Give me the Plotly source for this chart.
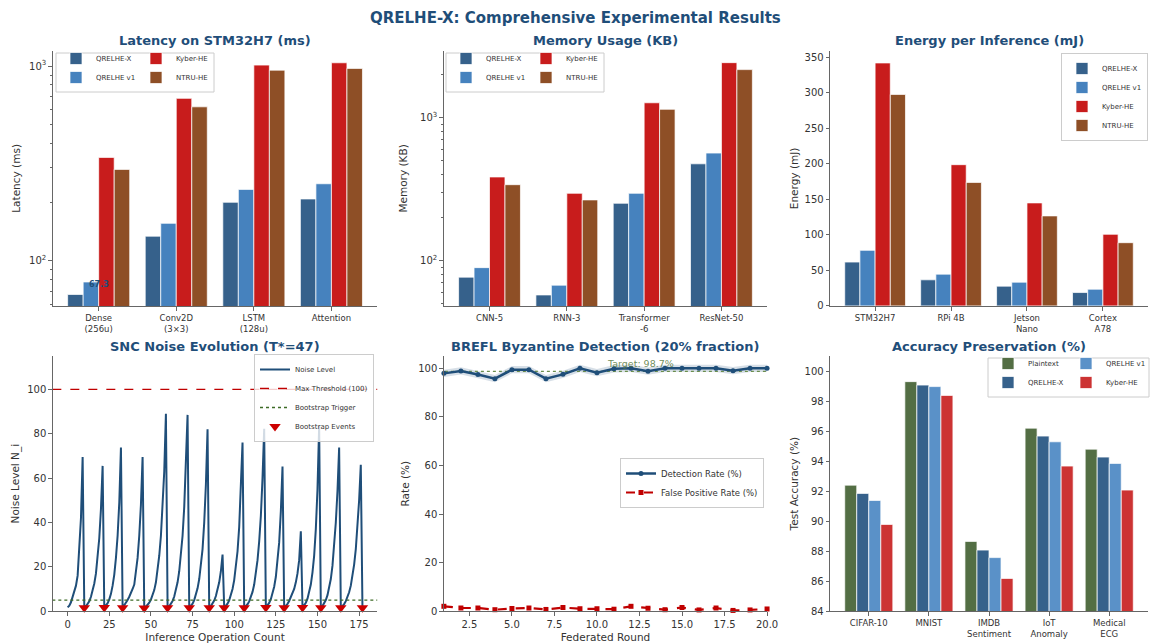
import math
import plotly.graph_objects as go

FONT = "DejaVu Sans"
TITLE_C = "#1f4e79"
TXT = "#333333"
AX = "#666666"

C_QX = "#36618b"
C_V1 = "#4682be"
C_KY = "#c81c1c"
C_NT = "#8e4f26"
C_PL = "#536e44"
C_V1B = "#5a91c8"
C_KYB = "#cc3333"

series_names = ["QRELHE-X", "QRELHE v1", "Kyber-HE", "NTRU-HE"]

# ---- Latency (ms) ----
lat_cats = ["Dense<br>(256u)", "Conv2D<br>(3×3)", "LSTM<br>(128u)", "Attention"]
lat_qx = [67.3, 134, 200, 208]
lat_v1 = [78, 156, 233, 249]
lat_ky = [340, 683, 1012, 1040]
lat_nt = [295, 618, 953, 973]

# ---- Memory (KB) ----
mem_cats = ["CNN-5", "RNN-3", "Transformer<br>-6", "ResNet-50"]
mem_qx = [76.6, 57.5, 252, 476]
mem_v1 = [89.3, 67.3, 296, 566]
mem_ky = [385, 296, 1273, 2430]
mem_nt = [340, 266, 1146, 2172]

# ---- Energy (mJ) ----
en_cats = ["STM32H7", "RPi 4B", "Jetson<br>Nano", "Cortex<br>A78"]
en_qx = [61.7, 36.7, 27.8, 18.8]
en_v1 = [78.2, 44.7, 33.4, 23.5]
en_ky = [342, 198.8, 145, 100.8]
en_nt = [297.7, 173.8, 126.7, 89]

# ---- Accuracy (%) ----
acc_cats = ["CIFAR-10", "MNIST", "IMDB<br>Sentiment", "IoT<br>Anomaly", "Medical<br>ECG"]
acc_names = ["Plaintext", "QRELHE-X", "QRELHE v1", "Kyber-HE"]
acc_plain = [92.4, 99.3, 88.65, 96.2, 94.8]
acc_qx = [91.85, 99.07, 88.07, 95.67, 94.27]
acc_v1 = [91.38, 98.97, 87.57, 95.29, 93.85]
acc_ky = [89.78, 98.38, 86.18, 93.67, 92.07]

# ---- SNC noise evolution ----
noise = [
    1.7, 2.5, 4.0, 6.5, 9.0, 11.5, 16.0, 27.0, 42.0, 69.5,
    1.5, 2.2, 3.1, 4.5, 6.5, 9.0, 12.5, 17.0, 24.0, 33.0, 46.0, 65.5,
    1.6, 2.4, 3.6, 5.3, 7.8, 11.5, 16.5, 24.0, 34.0, 49.0, 73.8,
    1.5, 2.5, 3.6, 5.0, 6.5, 8.0, 10.0, 12.0, 17.0, 24.0, 34.0, 48.0, 69.5,
    1.4, 2.0, 2.8, 3.8, 5.2, 7.0, 9.5, 13.0, 18.0, 25.0, 34.0, 46.0, 63.0, 89.0,
    1.5, 2.2, 3.2, 4.6, 6.6, 9.3, 13.0, 18.0, 25.0, 34.0, 47.0, 64.0, 88.5,
    1.5, 2.3, 3.4, 5.0, 7.2, 10.3, 14.5, 20.0, 28.0, 40.0, 57.0, 82.0,
    1.5, 2.3, 3.4, 4.8, 6.8, 9.5, 13.0, 18.0, 25.5,
    1.5, 2.3, 3.4, 4.9, 7.0, 10.0, 14.0, 19.5, 27.0, 38.0, 54.0, 76.0,
    1.5, 2.2, 3.1, 4.4, 6.2, 8.7, 12.0, 16.5, 23.0, 31.5, 43.0, 60.0, 82.2,
    1.6, 2.5, 3.7, 5.4, 7.8, 11.0, 15.5, 22.0, 31.0, 45.0, 65.2,
    1.5, 2.3, 3.3, 4.6, 6.2, 8.0, 10.0, 13.0, 17.0, 23.0, 36.0,
    1.6, 2.5, 3.8, 5.6, 8.2, 12.0, 17.5, 25.0, 37.0, 55.0, 83.5,
    1.5, 2.3, 3.4, 5.0, 7.2, 10.3, 14.5, 20.5, 28.5, 40.0, 54.0, 73.8,
    1.5, 2.2, 3.2, 4.5, 6.2, 8.5, 11.5, 15.5, 21.0, 28.0, 37.0, 50.0, 66.0,
    1.5,
]
ops = list(range(len(noise)))
bootstrap_idx = [10, 22, 33, 46, 60, 73, 85, 94, 106, 119, 130, 141, 152, 164, 177]
max_threshold = 100
bootstrap_trigger = 5

# ---- BREFL detection ----
rounds = list(range(1, 21))
det_rate = [97.9, 98.9, 97.4, 95.7, 99.4, 99.4, 95.7, 97.5, 100, 98.2,
            99.8, 100, 98.8, 100, 100, 100, 100, 99.0, 100, 100]
det_band = 1.5
fp_rate = [2.0, 1.3, 1.3, 0.6, 1.1, 1.3, 0.7, 1.5, 1.0, 1.0,
           0.8, 2.0, 1.2, 0.6, 1.5, 0.5, 1.3, 0.3, 0.5, 0.9]
target_rate = 98.7

fig = go.Figure()

# domains
X1, X2, X3 = [0.046, 0.328], [0.386, 0.667], [0.722, 0.998]
Y1, Y2 = [0.525, 0.921], [0.051, 0.447]


def add_bars(cats, vals, names, colors, xa, ya, legends):
    for v, n, c, lg in zip(vals, names, colors, legends):
        fig.add_trace(go.Bar(
            x=list(range(len(cats))), y=v, name=n, marker_color=c,
            marker_line=dict(color="rgba(255,255,255,0.9)", width=0.8),
            xaxis=xa, yaxis=ya, legend=lg, offsetgroup=n + xa,
        ))


add_bars(lat_cats, [lat_qx, lat_v1, lat_ky, lat_nt], series_names,
         [C_QX, C_V1, C_KY, C_NT], "x", "y", ["legend", "legend", "legend2", "legend2"])
add_bars(mem_cats, [mem_qx, mem_v1, mem_ky, mem_nt], series_names,
         [C_QX, C_V1, C_KY, C_NT], "x2", "y2", ["legend3", "legend3", "legend4", "legend4"])
add_bars(en_cats, [en_qx, en_v1, en_ky, en_nt], series_names,
         [C_QX, C_V1, C_KY, C_NT], "x3", "y3", ["legend5"] * 4)
add_bars(acc_cats, [acc_plain, acc_qx, acc_v1, acc_ky], acc_names,
         [C_PL, C_QX, C_V1B, C_KYB], "x6", "y6", ["legend8", "legend8", "legend9", "legend9"])

# Noise panel
fig.add_trace(go.Scatter(x=ops, y=noise, mode="lines", name="Noise Level",
                         line=dict(color="#1f4e79", width=2), xaxis="x4", yaxis="y4", legend="legend6"))
fig.add_trace(go.Scatter(x=[-20, 200], y=[max_threshold] * 2, mode="lines", name="Max Threshold (100)",
                         line=dict(color="#c00000", width=1.4, dash="dash"), xaxis="x4", yaxis="y4", legend="legend6"))
fig.add_trace(go.Scatter(x=[-20, 200], y=[bootstrap_trigger] * 2, mode="lines", name="Bootstrap Trigger",
                         line=dict(color="#3d6b26", width=1.3, dash="dot"), xaxis="x4", yaxis="y4", legend="legend6"))
fig.add_trace(go.Scatter(x=bootstrap_idx, y=[noise[i] for i in bootstrap_idx], mode="markers",
                         name="Bootstrap Events",
                         marker=dict(symbol="triangle-down", color="#cc0000", size=10),
                         xaxis="x4", yaxis="y4", legend="legend6", cliponaxis=False))

# Detection panel
fig.add_trace(go.Scatter(x=rounds, y=[d + det_band for d in det_rate], mode="lines",
                         line=dict(width=0, color="rgba(31,78,121,0)"), showlegend=False,
                         hoverinfo="skip", xaxis="x5", yaxis="y5"))
fig.add_trace(go.Scatter(x=rounds, y=[d - det_band for d in det_rate], mode="lines",
                         line=dict(width=0, color="rgba(31,78,121,0)"), fill="tonexty",
                         fillcolor="rgba(31,78,121,0.18)", showlegend=False,
                         hoverinfo="skip", xaxis="x5", yaxis="y5"))
fig.add_trace(go.Scatter(x=[0, 21], y=[target_rate] * 2, mode="lines", showlegend=False,
                         line=dict(color="#6b8e4e", width=1.2, dash="dot"), xaxis="x5", yaxis="y5"))
fig.add_trace(go.Scatter(x=rounds, y=det_rate, mode="lines+markers", name="Detection Rate (%)",
                         line=dict(color="#1f4e79", width=2.5), marker=dict(size=5, color="#1f4e79"),
                         xaxis="x5", yaxis="y5", legend="legend7", cliponaxis=False))
fig.add_trace(go.Scatter(x=rounds, y=fp_rate, mode="lines+markers", name="False Positive Rate (%)",
                         line=dict(color="#c00000", width=2.2, dash="dash"),
                         marker=dict(size=5, symbol="square", color="#c00000"),
                         xaxis="x5", yaxis="y5", legend="legend7", cliponaxis=False))

tickfont = dict(family=FONT, size=10, color=TXT)
smallfont = dict(family=FONT, size=8.5, color=TXT)
titlefont = dict(family=FONT, size=10.5, color=TXT)


def ax(domain, anchor, **kw):
    d = dict(domain=domain, anchor=anchor, showline=True, linecolor=AX, linewidth=1.2,
             ticks="outside", ticklen=3.5, tickcolor=AX, showgrid=False, zeroline=False,
             tickfont=tickfont, title_font=titlefont, automargin=False)
    d.update(kw)
    return d


def logminor(lo_exp, hi_exp):
    vals = []
    for e in range(lo_exp, hi_exp + 1):
        for m in range(2, 10):
            vals.append(m * 10 ** e)
    return vals


layout_axes = dict(
    xaxis=ax(X1, "y", range=[-0.59, 3.59], tickvals=list(range(4)), ticktext=lat_cats, tickfont=smallfont),
    yaxis=ax(Y1, "x", type="log", range=[math.log10(58.8), math.log10(1197)],
             tickvals=[100, 1000], ticktext=["10<sup>2</sup>", "10<sup>3</sup>"],
             minor=dict(tickvals=logminor(1, 3), ticks="outside", ticklen=2, tickcolor=AX),
             title=dict(text="Latency (ms)", standoff=6)),
    xaxis2=ax(X2, "y2", range=[-0.59, 3.59], tickvals=list(range(4)), ticktext=mem_cats, tickfont=smallfont),
    yaxis2=ax(Y1, "x2", type="log", range=[math.log10(48.2), math.log10(2938)],
              tickvals=[100, 1000], ticktext=["10<sup>2</sup>", "10<sup>3</sup>"],
              minor=dict(tickvals=logminor(1, 3), ticks="outside", ticklen=2, tickcolor=AX),
              title=dict(text="Memory (KB)", standoff=10)),
    xaxis3=ax(X3, "y3", range=[-0.59, 3.59], tickvals=list(range(4)), ticktext=en_cats, tickfont=smallfont),
    yaxis3=ax(Y1, "x3", range=[0, 359], tickvals=list(range(0, 351, 50)),
              title=dict(text="Energy (mJ)", standoff=3)),
    xaxis4=ax(X1, "y4", range=[-8.85, 185.85], tickvals=list(range(0, 176, 25)),
              title=dict(text="Inference Operation Count", standoff=4)),
    yaxis4=ax(Y2, "x4", range=[0, 115], tickvals=list(range(0, 101, 20)),
              title=dict(text="Noise Level N_i", standoff=5)),
    xaxis5=ax(X2, "y5", range=[1, 20], tickvals=[2.5 * k for k in range(1, 9)],
              ticktext=["%.1f" % (2.5 * k) for k in range(1, 9)],
              title=dict(text="Federated Round", standoff=4)),
    yaxis5=ax(Y2, "x5", range=[0, 105], tickvals=list(range(0, 101, 20)),
              title=dict(text="Rate (%)", standoff=6)),
    xaxis6=ax(X3, "y6", range=[-0.64, 4.64], tickvals=list(range(5)), ticktext=acc_cats, tickfont=smallfont),
    yaxis6=ax(Y2, "x6", range=[84, 101], tickvals=list(range(84, 101, 2)),
              title=dict(text="Test Accuracy (%)", standoff=3)),
)

W, H = 1150, 644


def px(x):
    return x / W


def py(y):
    return 1 - y / H


leg_base = dict(font=dict(family=FONT, size=7, color=TXT), bgcolor="rgba(255,255,255,0)",
                borderwidth=0, itemwidth=30, tracegroupgap=0, traceorder="normal",
                xanchor="left", yanchor="top")


def leg(x, y, **kw):
    d = dict(leg_base)
    d.update(x=x, y=y)
    d.update(kw)
    return d


legends = dict(
    legend=leg(px(56), py(44)),
    legend2=leg(px(136), py(44)),
    legend3=leg(px(446), py(44)),
    legend4=leg(px(526), py(44)),
    legend5=leg(px(1148), py(53), xanchor="right", bgcolor="rgba(255,255,255,0.8)",
                bordercolor="#cccccc", borderwidth=1),
    legend6=leg(px(374), py(354), xanchor="right", bgcolor="rgba(255,255,255,0.8)",
                bordercolor="#cccccc", borderwidth=1),
    legend7=leg(px(764), py(483), xanchor="right", yanchor="middle", bgcolor="rgba(255,255,255,0.8)",
                bordercolor="#cccccc", borderwidth=1, font=dict(family=FONT, size=8.5, color=TXT)),
    legend8=leg(px(988), py(349)),
    legend9=leg(px(1066), py(349)),
)

annotations = [
    dict(text="<b>QRELHE-X: Comprehensive Experimental Results</b>", x=0.5, y=py(18), xref="paper",
         yref="paper", xanchor="center", yanchor="middle", showarrow=False,
         font=dict(family=FONT, size=15, color=TITLE_C)),
]
sub_titles = [
    ("Latency on STM32H7 (ms)", X1, 41), ("Memory Usage (KB)", X2, 41),
    ("Energy per Inference (mJ)", X3, 41), ("SNC Noise Evolution (T*=47)", X1, 346),
    ("BREFL Byzantine Detection (20% fraction)", X2, 346), ("Accuracy Preservation (%)", X3, 346),
]
for t, dom, yy in sub_titles:
    annotations.append(dict(text="<b>%s</b>" % t, x=(dom[0] + dom[1]) / 2, y=py(yy), xref="paper",
                            yref="paper", xanchor="center", yanchor="middle", showarrow=False,
                            font=dict(family=FONT, size=13, color=TITLE_C)))
annotations.append(dict(text="<b>%.1f</b>" % lat_qx[0], x=0, y=math.log10(lat_qx[0] * 1.13), xref="x", yref="y",
                        xanchor="center", yanchor="middle",
                        showarrow=False, font=dict(family=FONT, size=8, color=TITLE_C)))
annotations.append(dict(text="Target: %.1f%%" % target_rate, x=10.5, y=target_rate + 0.2, xref="x5", yref="y5",
                        xanchor="left", yanchor="bottom", showarrow=False,
                        font=dict(family=FONT, size=9.5, color="rgba(85,120,60,0.85)")))

frame = dict(type="rect", xref="paper", yref="paper", line=dict(color="#cccccc", width=1),
             fillcolor="rgba(255,255,255,0.8)", layer="above")
shapes = [
    dict(frame, x0=px(56), x1=px(214), y0=py(53), y1=py(92)),
    dict(frame, x0=px(446), x1=px(604), y0=py(53), y1=py(92)),
    dict(frame, x0=px(988), x1=px(1149), y0=py(358), y1=py(397)),
]

fig.update_layout(
    width=W, height=H, margin=dict(l=0, r=0, t=0, b=0, autoexpand=False),
    paper_bgcolor="white", plot_bgcolor="white",
    barmode="group", bargap=0.2, bargroupgap=0,
    font=dict(family=FONT, color=TXT),
    annotations=annotations, shapes=shapes,
    **layout_axes, **legends,
)

fig.write_html("out.html", config={"displayModeBar": False},
               post_script="document.body.style.margin='0';document.body.style.overflow='hidden';")
